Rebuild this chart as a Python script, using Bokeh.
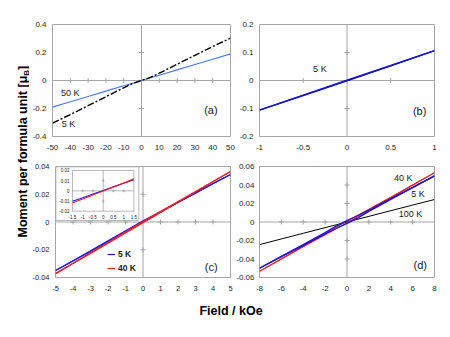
from math import pi
from bokeh.plotting import figure
from bokeh.models import (Range1d, FixedTicker, Span, Label, Legend, LegendItem,
                          CustomJSTickFormatter)
from bokeh.layouts import row, column
from bokeh.embed import file_html
from bokeh.resources import INLINE
from bokeh.core.properties import value

FONT = "Liberation Sans"
FRAME = "#a6a6a6"
TICKTXT = "#262626"

# ---------------- data ----------------
# (a)
a_field = [-50, -40, -30, -20, -10, -5, 0, 5, 10, 20, 30, 40, 50]
a_5K = [-0.305, -0.243, -0.180, -0.116, -0.052, -0.022, 0.0, 0.022, 0.052, 0.116, 0.180, 0.243, 0.302]
a_50K = [-0.190, -0.152, -0.114, -0.076, -0.038, -0.019, 0.0, 0.019, 0.038, 0.076, 0.114, 0.152, 0.190]
a_xticks = [-50, -40, -30, -20, -10, 0, 10, 20, 30, 40, 50]
a_xlabels = ["-50", "-40", "-30", "-20", "-10", "0", "10", "20", "30", "40", "50"]
a_yticks = [-0.4, -0.2, 0, 0.2, 0.4]
a_ylabels = ["-0.4", "-0.2", "0", "0.2", "0.4"]

# (b)
b_field = [-1, -0.5, 0, 0.5, 1]
b_5K_up = [-0.1055, -0.0535, -0.0008, 0.0525, 0.1070]
b_5K_down = [-0.1055, -0.0525, 0.0008, 0.0535, 0.1070]
b_xticks = [-1, -0.5, 0, 0.5, 1]
b_xlabels = ["-1", "-0.5", "0", "0.5", "1"]
b_yticks = [-0.2, -0.1, 0, 0.1, 0.2]
b_ylabels = ["-0.2", "-0.1", "0", "0.1", "0.2"]

# (c)
c_field = [-5, -4, -3, -2, -1, -0.5, 0, 0.5, 1, 2, 3, 4, 5]
c_5K_up = [-0.0350, -0.0281, -0.0212, -0.0142, -0.0071, -0.0036, 0.0000, 0.0036, 0.0071, 0.0140, 0.0208, 0.0276, 0.0343]
c_5K_down = [-0.0350, -0.0279, -0.0208, -0.0136, -0.0063, -0.0027, 0.0008, 0.0042, 0.0076, 0.0143, 0.0210, 0.0277, 0.0343]
c_40K_up = [-0.0372, -0.0299, -0.0226, -0.0153, -0.0079, -0.0043, -0.0006, 0.0031, 0.0068, 0.0142, 0.0216, 0.0290, 0.0364]
c_40K_down = [-0.0372, -0.0297, -0.0222, -0.0147, -0.0070, -0.0033, 0.0004, 0.0040, 0.0076, 0.0148, 0.0220, 0.0292, 0.0364]
c_xticks = [-5, -4, -3, -2, -1, 0, 1, 2, 3, 4, 5]
c_xlabels = ["-5", "-4", "-3", "-2", "-1", "0", "1", "2", "3", "4", "5"]
c_yticks = [-0.04, -0.02, 0, 0.02, 0.04]
c_ylabels = ["-0.04", "-0.02", "0", "0.02", "0.04"]

# (c) inset
ci_field = [-1.5, -1, -0.5, 0, 0.5, 1, 1.5]
ci_5K = [-0.0102, -0.0067, -0.0031, 0.0004, 0.0039, 0.0074, 0.0109]
ci_40K = [-0.0117, -0.0079, -0.0041, -0.0002, 0.0038, 0.0078, 0.0118]
ci_xticks = [-1.5, -1, -0.5, 0, 0.5, 1, 1.5]
ci_xlabels = ["-1.5", "-1", "-0.5", "0", "0.5", "1", "1.5"]
ci_yticks = [-0.02, -0.01, 0, 0.01, 0.02]
ci_ylabels = ["-0.02", "-0.01", "0", "0.01", "0.02"]

# (d)
d_field = [-8, -6, -4, -2, -1, 0, 1, 2, 4, 6, 8]
d_5K_up = [-0.0500, -0.0375, -0.0252, -0.0130, -0.0070, -0.0015, 0.0045, 0.0115, 0.0245, 0.0372, 0.0499]
d_5K_down = [-0.0500, -0.0372, -0.0245, -0.0115, -0.0045, 0.0015, 0.0070, 0.0130, 0.0252, 0.0375, 0.0499]
d_40K_up = [-0.0534, -0.0401, -0.0268, -0.0138, -0.0074, -0.0010, 0.0058, 0.0128, 0.0262, 0.0398, 0.0534]
d_40K_down = [-0.0534, -0.0398, -0.0262, -0.0128, -0.0058, 0.0010, 0.0074, 0.0138, 0.0268, 0.0401, 0.0534]
d_100K = [-0.0245, -0.0183, -0.0122, -0.0061, -0.0031, 0.0, 0.0031, 0.0061, 0.0122, 0.0183, 0.0243]
d_xticks = [-8, -6, -4, -2, 0, 2, 4, 6, 8]
d_xlabels = ["-8", "-6", "-4", "-2", "0", "2", "4", "6", "8"]
d_yticks = [-0.06, -0.04, -0.02, 0, 0.02, 0.04, 0.06]
d_ylabels = ["-0.06", "-0.04", "-0.02", "0", "0.02", "0.04", "0.06"]

FMT_CODE = """
const i = tvals.findIndex(t => Math.abs(t - tick) < 1e-9);
return i >= 0 ? tlabs[i] : '';
"""


def panel(xt, xl, yt, yl, w, h, bl, br, bt, bb, ystand=6, fsize="8px"):
    p = figure(width=w, height=h, x_range=Range1d(xt[0], xt[-1]), y_range=Range1d(yt[0], yt[-1]),
               output_backend="svg", toolbar_location=None,
               min_border_left=bl, min_border_right=br, min_border_top=bt, min_border_bottom=bb)
    p.grid.visible = False
    p.outline_line_color = FRAME
    p.outline_line_width = 1
    p.background_fill_color = "white"
    p.border_fill_color = "white"
    for ax, ticks, labels in ((p.xaxis[0], xt, xl), (p.yaxis[0], yt, yl)):
        ax.ticker = FixedTicker(ticks=ticks)
        ax.formatter = CustomJSTickFormatter(args=dict(tvals=ticks, tlabs=labels), code=FMT_CODE)
        ax.axis_line_color = None
        ax.major_tick_line_color = None
        ax.minor_tick_line_color = None
        ax.major_tick_out = 0
        ax.major_tick_in = 0
        ax.minor_tick_out = 0
        ax.minor_tick_in = 0
        ax.major_label_text_font = FONT
        ax.major_label_text_font_size = fsize
        ax.major_label_text_color = TICKTXT
    p.xaxis.major_label_standoff = 8
    p.yaxis.major_label_standoff = ystand
    p.add_layout(Span(location=0, dimension="width", line_color=FRAME, line_width=1, level="underlay"))
    p.add_layout(Span(location=0, dimension="height", line_color=FRAME, line_width=1, level="underlay"))
    cx = [t for t in xt[1:-1] if t != 0]
    cy = [t for t in yt[1:-1] if t != 0]
    p.scatter(cx, [0] * len(cx), marker="cross", size=5, line_color=FRAME, line_width=1)
    p.scatter([0] * len(cy), cy, marker="cross", size=5, line_color=FRAME, line_width=1)
    return p


def note(p, x, y, txt, size="9px", style="normal", align="center"):
    p.text(x=[x], y=[y], text=[txt], text_align=align, text_baseline="middle",
           text_font=value(FONT), text_font_size=size, text_font_style=style, text_color="#1a1a1a")


# ---------------- (a) ----------------
fa = panel(a_xticks, a_xlabels, a_yticks, a_ylabels, 207, 156, 22, 6, 24, 20)
fa.line(a_field, a_50K, line_color="#4a78f5", line_width=1.1)
fa.line(a_field, a_5K, line_color="black", line_width=1.4, line_dash="7 2 2 2")
note(fa, -40, -0.092, "50 K")
note(fa, -41, -0.313, "5 K")
note(fa, 39, -0.213, "(a)", size="11px")

# ---------------- (b) ----------------
fb = panel(b_xticks, b_xlabels, b_yticks, b_ylabels, 202, 156, 21, 4, 24, 20)
fb.line(b_field, b_5K_up, line_color="#1414c8", line_width=1.4)
fb.line(b_field, b_5K_down, line_color="#1414c8", line_width=1.4)
note(fb, -0.31, 0.042, "5 K")
note(fb, 0.83, -0.11, "(b)", size="11px")

# ---------------- (c) ----------------
fc = panel(c_xticks, c_xlabels, c_yticks, c_ylabels, 204, 144, 23, 3, 10, 23, ystand=6, fsize="7.5px")
cb1 = fc.line(c_field, c_5K_up, line_color="#1a1aff", line_width=1.2)
fc.line(c_field, c_5K_down, line_color="#1a1aff", line_width=1.2)
cr1 = fc.line(c_field, c_40K_up, line_color="#ff1a1a", line_width=1.2)
fc.line(c_field, c_40K_down, line_color="#ff1a1a", line_width=1.2)
note(fc, 3.9, -0.0326, "(c)", size="11px")
leg = Legend(items=[LegendItem(label="5 K", renderers=[cb1]), LegendItem(label="40 K", renderers=[cr1])],
             location=(52, 3), padding=0, margin=0, spacing=2, glyph_width=8, glyph_height=12,
             label_height=12, label_standoff=3, border_line_color=None, background_fill_alpha=0,
             label_text_font=FONT, label_text_font_size="8.5px", label_text_font_style="bold",
             label_text_color="#1a1a1a")
fc.add_layout(leg)

# inset placed as fractions of the (c) frame
xs, xe, ys, ye = c_xticks[0], c_xticks[-1], c_yticks[0], c_yticks[-1]
FX = (0.097, 0.448)
FY = (0.597, 0.964)
ins = fc.subplot(
    x_source=Range1d(ci_xticks[0], ci_xticks[-1]), y_source=Range1d(ci_yticks[0], ci_yticks[-1]),
    x_target=Range1d(xs + FX[0] * (xe - xs), xs + FX[1] * (xe - xs)),
    y_target=Range1d(ys + FY[0] * (ye - ys), ys + FY[1] * (ye - ys)))
ins.quad(left=[-2.31], right=[1.74], bottom=[-0.0291], top=[0.0236],
         fill_color="white", line_color=FRAME, line_width=0.8)
ins.quad(left=[ci_xticks[0]], right=[ci_xticks[-1]], bottom=[ci_yticks[0]], top=[ci_yticks[-1]],
         fill_alpha=0, line_color=FRAME, line_width=0.8)
ins.segment(x0=[ci_xticks[0], 0], y0=[0, ci_yticks[0]], x1=[ci_xticks[-1], 0], y1=[0, ci_yticks[-1]],
            line_color=FRAME, line_width=0.8)
icx = [t for t in ci_xticks[1:-1] if t != 0]
icy = [t for t in ci_yticks[1:-1] if t != 0]
ins.scatter(icx, [0] * len(icx), marker="cross", size=3, line_color=FRAME, line_width=0.8)
ins.scatter([0] * len(icy), icy, marker="cross", size=3, line_color=FRAME, line_width=0.8)
ins.text(x=[ci_xticks[0]] * len(ci_yticks), y=ci_yticks, text=ci_ylabels, text_align="right",
         text_baseline="middle", x_offset=-3, text_font=value(FONT), text_font_size="4.5px",
         text_color=TICKTXT)
ins.text(x=ci_xticks, y=[ci_yticks[0]] * len(ci_xticks), text=ci_xlabels, text_align="center",
         text_baseline="top", y_offset=4, text_font=value(FONT), text_font_size="4.5px",
         text_color=TICKTXT)
ins.line(ci_field, ci_5K, line_color="#1a1aff", line_width=1.1)
ins.line(ci_field, ci_40K, line_color="#ff1a1a", line_width=1.1)

# ---------------- (d) ----------------
fd = panel(d_xticks, d_xlabels, d_yticks, d_ylabels, 205, 144, 24, 4, 7, 22, ystand=5)
fd.line(d_field, d_100K, line_color="black", line_width=1)
fd.line(d_field, d_40K_up, line_color="#ff1a1a", line_width=1.1)
fd.line(d_field, d_40K_down, line_color="#ff1a1a", line_width=1.1)
fd.line(d_field, d_5K_up, line_color="#1414d8", line_width=1.3)
fd.line(d_field, d_5K_down, line_color="#1414d8", line_width=1.3)
note(fd, 5.15, 0.0475, "40 K")
note(fd, 6.5, 0.030, "5 K")
note(fd, 5.8, 0.009, "100 K")
note(fd, 6.7, -0.047, "(d)", size="11px")

# ---------------- axis titles ----------------
yl = figure(width=29, height=328, x_range=Range1d(0, 1), y_range=Range1d(0, 1),
            x_axis_type=None, y_axis_type=None, output_backend="svg", toolbar_location=None,
            min_border=0, outline_line_color=None)
yl.grid.visible = False
common = dict(x_units="screen", y_units="screen", angle=pi / 2, text_align="left",
              text_baseline="alphabetic", text_font=FONT, text_font_style="bold", text_color="black")
yl.add_layout(Label(x=22.5, y=91, text="Moment per formula unit [\u03bc", text_font_size="12.5px", **common))
yl.add_layout(Label(x=25.5, y=252.8, text="B", text_font_size="8px", **common))
yl.add_layout(Label(x=22.5, y=258.6, text="]", text_font_size="12.5px", **common))

xl = figure(width=409, height=28, x_range=Range1d(0, 1), y_range=Range1d(0, 1),
            x_axis_type=None, y_axis_type=None, output_backend="svg", toolbar_location=None,
            min_border=0, outline_line_color=None)
xl.grid.visible = False
xl.add_layout(Label(x=201.5, y=18, x_units="screen", y_units="screen", text="Field / kOe",
                    text_align="center", text_baseline="middle", text_font=FONT,
                    text_font_size="12.5px", text_font_style="bold", text_color="black"))

layout = row(yl, column(row(fa, fb), row(fc, fd), xl))
open("out.html", "w").write(file_html(layout, INLINE))
